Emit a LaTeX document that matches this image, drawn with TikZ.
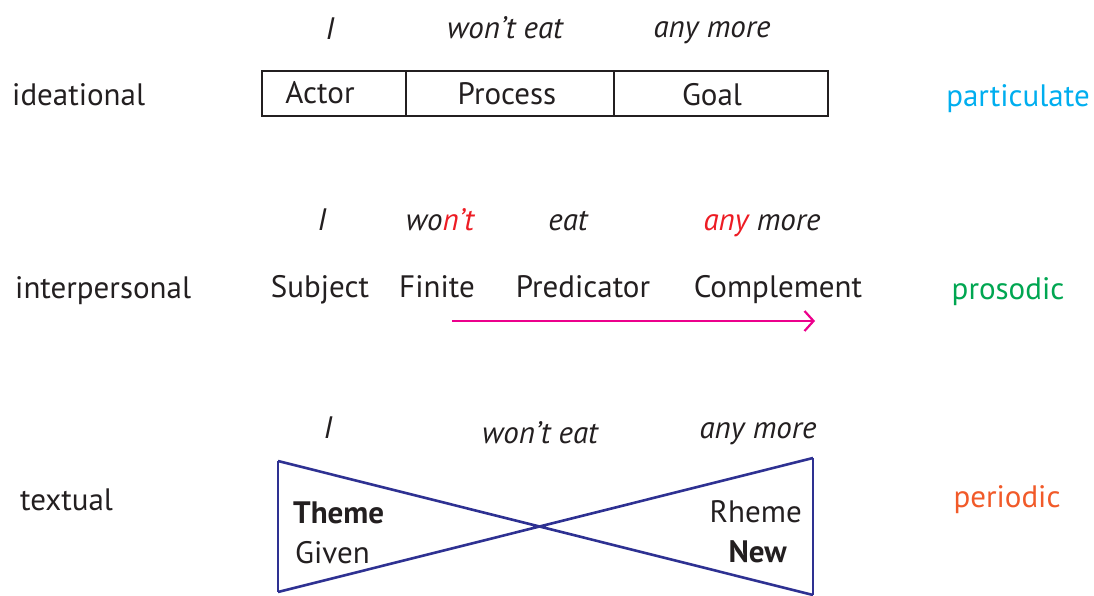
\documentclass[tikz,border=0pt]{standalone}
\usepackage{fontspec}
\setmainfont{PT Sans}
\usetikzlibrary{arrows.meta}
\definecolor{cpart}{RGB}{0,174,239}
\definecolor{cpros}{RGB}{0,166,81}
\definecolor{cperi}{RGB}{241,90,41}
\definecolor{cmag}{RGB}{236,0,140}
\definecolor{cblue}{RGB}{46,49,146}
\definecolor{cred}{RGB}{237,28,36}
\definecolor{ctxt}{RGB}{35,31,32}
\begin{document}
\begin{tikzpicture}[x=1pt,y=-1pt,
  txt/.style={font=\fontsize{31}{34}\selectfont, text=ctxt, inner sep=0pt, anchor=base},
  itx/.style={txt, font=\fontsize{31}{34}\selectfont\itshape},
  meta/.style={font=\fontsize{31}{34}\selectfont, inner sep=0pt, anchor=base},
  boxline/.style={draw=ctxt, line width=2pt},
  bow/.style={draw=cblue, line width=2.6pt, line join=miter}]
\useasboundingbox (0,0) rectangle (1094,595);
% ideational
\node[txt, anchor=base west] (ideat) at (12,105) {ideational};
\node[itx] (i1) at (330,39) {I};
\node[itx] (w1) at (505,38) {won’t eat};
\node[itx] (a1) at (712,37) {any more};
\draw[boxline] (262,71) rectangle (828,116);
\draw[boxline] (406,71) -- (406,116);
\draw[boxline] (614,71) -- (614,116);
\node[txt] (actor) at (320,103) {Actor};
\node[txt] (proc) at (507,104) {Process};
\node[txt] (goal) at (712,105) {Goal};
\node[meta, text=cpart] (part) at (1018,106) {particulate};
% interpersonal
\node[txt, anchor=base west] (inter) at (15,298) {interpersonal};
\node[itx] (i2) at (322,230) {I};
\node[itx] (w2) at (440,230) {wo\textcolor{cred}{n’t}};
\node[itx] (e2) at (568,230) {eat};
\node[itx] (a2) at (762,230) {\textcolor{cred}{any} more};
\node[txt] (subj) at (320,297) {Subject};
\node[txt] (fin) at (437,297) {Finite};
\node[txt] (pred) at (583,297) {Predicator};
\node[txt] (comp) at (778,297) {Complement};
\coordinate (arrS) at (452,321);
\coordinate (arrE) at (815,321);
\draw[cmag, line width=2.2pt, -{Straight Barb[length=9pt,width=20pt,line width=2.2pt]}] (arrS) -- (arrE);
\node[meta, text=cpros] (pros) at (1008,299) {prosodic};
% textual
\node[txt, anchor=base west] (text) at (20,510) {textual};
\node[itx] (i3) at (328,438) {I};
\node[itx] (w3) at (540,443) {won’t eat};
\node[itx] (a3) at (758,438) {any more};
\draw[bow] (278,461) -- (813,595) (278,592) -- (813,458);
\draw[bow] (278,461) -- (278,592) (813,458) -- (813,595);
\node[txt, anchor=base west, font=\fontsize{31}{34}\selectfont\bfseries] (theme) at (293,523) {Theme};
\node[txt, anchor=base west] (given) at (295,563) {Given};
\node[txt, anchor=base east] (rheme) at (802,522) {Rheme};
\node[txt, anchor=base east, font=\fontsize{31}{34}\selectfont\bfseries] (new) at (787,562) {New};
\node[meta, text=cperi] (peri) at (1007,507) {periodic};
\end{tikzpicture}
\end{document}
